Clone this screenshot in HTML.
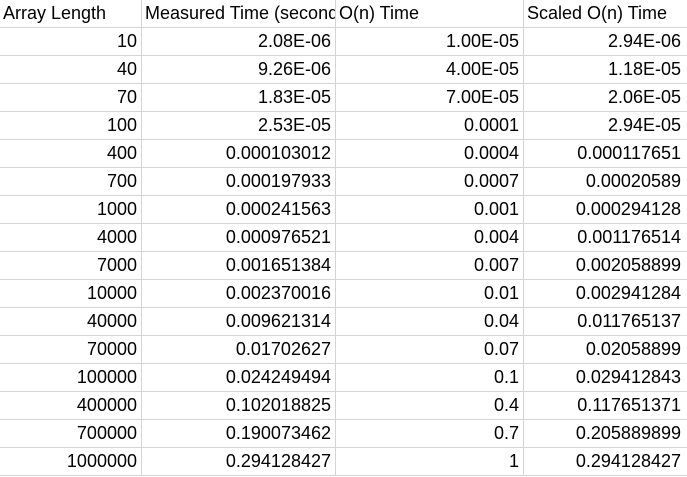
<!DOCTYPE html>
<html><head><meta charset="utf-8"><style>
body{margin:0;background:#fff;width:687px;height:477px;overflow:hidden;position:relative}
table{border-collapse:collapse;table-layout:fixed;width:690px;font-family:"Liberation Sans","Noto Sans CJK SC",sans-serif;font-size:18px;color:#000;position:absolute;left:-1px;top:-1px}
td{height:27px;border:1px solid #d4d4d4;padding:0 4px 0 3px;white-space:nowrap;overflow:hidden;line-height:27px;text-align:right}
td:last-child{padding-right:8px}
tr:first-child td{text-align:left}
</style></head><body>
<table>
<colgroup><col style="width:142px"><col style="width:194px"><col style="width:188px"><col style="width:166px"></colgroup>
<tbody id="tb"></tbody></table>
<script>
const headers=["Array Length","Measured Time (seconds)","O(n) Time","Scaled O(n) Time"];
const lengths=["10","40","70","100","400","700","1000","4000","7000","10000","40000","70000","100000","400000","700000","1000000"];
const measured=["2.08E-06","9.26E-06","1.83E-05","2.53E-05","0.000103012","0.000197933","0.000241563","0.000976521","0.001651384","0.002370016","0.009621314","0.01702627","0.024249494","0.102018825","0.190073462","0.294128427"];
const onTime=["1.00E-05","4.00E-05","7.00E-05","0.0001","0.0004","0.0007","0.001","0.004","0.007","0.01","0.04","0.07","0.1","0.4","0.7","1"];
const scaled=["2.94E-06","1.18E-05","2.06E-05","2.94E-05","0.000117651","0.00020589","0.000294128","0.001176514","0.002058899","0.002941284","0.011765137","0.02058899","0.029412843","0.117651371","0.205889899","0.294128427"];
const tb=document.getElementById('tb');
const names=["array-length","measured-time","on-time","scaled-on-time"];
function addRow(vals,isHeader){
  const tr=document.createElement('tr');
  
  
  vals.forEach((v,i)=>{
    const td=document.createElement('td');
    
    
    td.textContent=v;
    if(isHeader&&i===1){td.style.paddingRight='0';}
    tr.appendChild(td);
  });
  tb.appendChild(tr);
}
addRow(headers,true);
lengths.forEach((l,i)=>addRow([l,measured[i],onTime[i],scaled[i]],false));
</script>
</body></html>
